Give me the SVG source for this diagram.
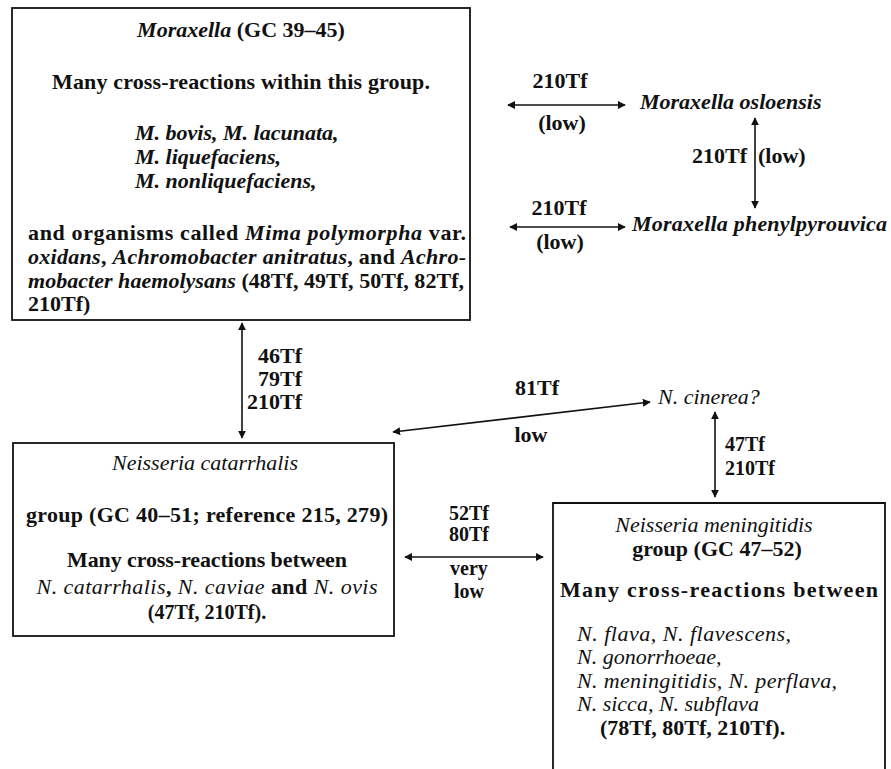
<svg xmlns="http://www.w3.org/2000/svg" width="891" height="769" viewBox="0 0 891 769">
<style>
text{font-family:"Liberation Serif","Times New Roman",serif;font-size:22px;font-weight:bold;fill:#111}
.i{font-style:italic}
.n{font-weight:normal}
.c{text-anchor:middle}
.r{text-anchor:end}
.s{font-size:20px}
.box{fill:none;stroke:#111;stroke-width:1.8}
.con{fill:none;stroke:#111;stroke-width:1.6;marker-start:url(#ah);marker-end:url(#ah)}
</style>
<defs>
<marker id="ah" viewBox="0 0 10 10" refX="9" refY="5" markerWidth="5" markerHeight="5" orient="auto-start-reverse" markerUnits="strokeWidth">
<path d="M0,0 L10,5 L0,10 Z" fill="#111"/>
</marker>
</defs>
<rect width="891" height="769" fill="#fff"/>

<g id="moraxella">
<rect class="box" x="12" y="8" width="458" height="312"/>
<text x="241" y="37" class="c"><tspan class="i">Moraxella</tspan> (GC 39–45)</text>
<text x="241" y="89" class="c" textLength="378">Many cross-reactions within this group.</text>
<text x="135" y="140" class="i">M. bovis, M. lacunata,</text>
<text x="135" y="164" class="i">M. liquefaciens,</text>
<text x="135" y="188" class="i">M. nonliquefaciens,</text>
<text x="28" y="240" textLength="438">and organisms called <tspan class="i">Mima polymorpha</tspan> var.</text>
<text x="28" y="264" textLength="438"><tspan class="i">oxidans</tspan>, <tspan class="i">Achromobacter anitratus</tspan>, and <tspan class="i">Achro-</tspan></text>
<text x="28" y="288" textLength="436"><tspan class="i">mobacter haemolysans</tspan> (48Tf, 49Tf, 50Tf, 82Tf,</text>
<text x="28" y="311">210Tf)</text>
</g>

<g id="osloensis">
<text x="640" y="109" class="i">Moraxella osloensis</text>
</g>

<g id="phenylpyrouvica">
<text x="632" y="231" class="i" textLength="255">Moraxella phenylpyrouvica</text>
</g>

<g id="cinerea">
<text x="658" y="404" class="i n">N. cinerea?</text>
</g>

<g id="catarrhalis">
<rect class="box" x="13" y="443" width="381" height="193"/>
<text x="205" y="470" class="c i n">Neisseria catarrhalis</text>
<text x="207" y="522" class="c" textLength="362">group (GC 40–51; reference 215, 279)</text>
<text x="207" y="567" class="c" textLength="280">Many cross-reactions between</text>
<text x="207" y="594" class="c" textLength="341"><tspan class="i n">N. catarrhalis</tspan>, <tspan class="i n">N. caviae</tspan> and <tspan class="i n">N. ovis</tspan></text>
<text x="207" y="619" class="c s">(47Tf, 210Tf).</text>
</g>

<g id="meningitidis">
<path class="box" d="M553,772 V503 H885 V772"/>
<text x="714" y="532" class="c i n">Neisseria meningitidis</text>
<text x="717" y="556" class="c">group (GC 47–52)</text>
<text x="719" y="597" class="c" textLength="318">Many cross-reactions between</text>
<text x="577" y="641" class="i n" textLength="214">N. flava, N. flavescens,</text>
<text x="577" y="664" class="i n">N. gonorrhoeae,</text>
<text x="577" y="688" class="i n" textLength="260">N. meningitidis, N. perflava,</text>
<text x="577" y="711" class="i n">N. sicca, N. subflava</text>
<text x="600" y="735">(78Tf, 80Tf, 210Tf).</text>
</g>

<g id="connectors">
<line class="con" x1="508" y1="105" x2="625" y2="105"/>
<text x="560" y="88" class="c">210Tf</text>
<text x="562" y="130" class="c">(low)</text>

<line class="con" x1="755" y1="118" x2="755" y2="208"/>
<text x="747" y="163" class="r">210Tf</text>
<text x="758" y="163">(low)</text>

<line class="con" x1="510" y1="227" x2="625" y2="227"/>
<text x="559" y="215" class="c">210Tf</text>
<text x="560" y="249" class="c">(low)</text>

<line class="con" x1="242" y1="323" x2="242" y2="438"/>
<text x="302" y="363" class="r">46Tf</text>
<text x="302" y="386" class="r">79Tf</text>
<text x="302" y="409" class="r">210Tf</text>

<line class="con" x1="393" y1="432" x2="650" y2="402"/>
<text x="537" y="395" class="c">81Tf</text>
<text x="531" y="442" class="c">low</text>

<line class="con" x1="715" y1="412" x2="715" y2="497"/>
<text x="725" y="451" class="s">47Tf</text>
<text x="725" y="475" class="s">210Tf</text>

<line class="con" x1="405" y1="557" x2="543" y2="557"/>
<text x="469" y="520" class="c s">52Tf</text>
<text x="469" y="541" class="c s">80Tf</text>
<text x="469" y="575" class="c s">very</text>
<text x="469" y="598" class="c s">low</text>
</g>
</svg>
